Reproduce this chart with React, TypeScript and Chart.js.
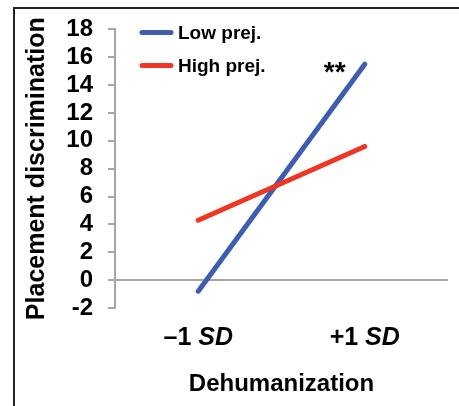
import React, { useEffect, useRef } from "react";
import { Chart, registerables } from "chart.js";

Chart.register(...registerables);

const categories = ["–1 SD", "+1 SD"];
const lowPrej = [-0.8, 15.5];
const highPrej = [4.3, 9.6];
const seriesNames = ["Low prej.", "High prej."];
const yTicksMin = -2;
const yTicksMax = 18;
const yStep = 2;
const yTitle = "Placement discrimination";
const xTitle = "Dehumanization";
const sigMark = "**";

const BLUE = "#3E5DB0";
const RED = "#EE3526";
const GRAY = "#A6A6A6";
const FONT = "'Liberation Sans', Arial, Helvetica, sans-serif";

export default function App() {
  const ref = useRef<HTMLCanvasElement>(null);

  useEffect(() => {
    if (!ref.current) return;
    Chart.defaults.font.family = FONT;

    const overlay = {
      id: "overlay",
      afterDraw(chart: any) {
        const ctx = chart.ctx as CanvasRenderingContext2D;
        const area = chart.chartArea;
        const xs = chart.scales.x;
        ctx.save();
        // x tick labels with italic "SD"
        categories.forEach((lab, i) => {
          const x = xs.getPixelForValue(i);
          const sp = lab.indexOf(" ");
          const a = lab.slice(0, sp + 1);
          const b = lab.slice(sp + 1);
          ctx.font = `bold 25px ${FONT}`;
          const wa = ctx.measureText(a).width;
          ctx.font = `italic bold 25px ${FONT}`;
          const wb = ctx.measureText(b).width;
          const start = x - (wa + wb) / 2;
          ctx.fillStyle = "#000";
          ctx.textBaseline = "middle";
          ctx.textAlign = "left";
          ctx.font = `bold 25px ${FONT}`;
          ctx.fillText(a, start, area.bottom + 30);
          ctx.font = `italic bold 25px ${FONT}`;
          ctx.fillText(b, start + wa, area.bottom + 30);
        });
        // legend
        const cols = [BLUE, RED];
        seriesNames.forEach((name, i) => {
          const y = area.top + 3 + i * 33;
          ctx.strokeStyle = cols[i];
          ctx.lineWidth = 5;
          ctx.lineCap = "round";
          ctx.beginPath();
          ctx.moveTo(area.left + 27, y);
          ctx.lineTo(area.left + 56, y);
          ctx.stroke();
          ctx.fillStyle = "#000";
          ctx.font = `bold 19px ${FONT}`;
          ctx.textAlign = "left";
          ctx.textBaseline = "middle";
          ctx.fillText(name, area.left + 63, y + 1);
        });
        // significance mark
        ctx.font = `bold 28px ${FONT}`;
        ctx.textAlign = "center";
        ctx.textBaseline = "middle";
        ctx.fillText(sigMark, xs.getPixelForValue(1) - 30, area.top + 44);
        ctx.restore();
      },
    };

    const chart = new Chart(ref.current, {
      type: "line",
      data: {
        labels: categories,
        datasets: [
          {
            label: seriesNames[0],
            data: lowPrej,
            borderColor: BLUE,
            backgroundColor: BLUE,
            borderWidth: 5,
            borderCapStyle: "round",
            pointRadius: 0,
            order: 1,
          },
          {
            label: seriesNames[1],
            data: highPrej,
            borderColor: RED,
            backgroundColor: RED,
            borderWidth: 5,
            borderCapStyle: "round",
            pointRadius: 0,
            order: 0,
          },
        ],
      },
      options: {
        responsive: false,
        animation: false,
        layout: { padding: { top: 29, right: 11, bottom: 0, left: 0 } },
        plugins: { legend: { display: false }, tooltip: { enabled: false } },
        scales: {
          x: {
            type: "category",
            offset: true,
            grid: { display: false, drawTicks: false },
            border: { display: false },
            ticks: { color: "transparent", font: { size: 23, weight: "bold" } },
            title: {
              display: true,
              text: xTitle,
              color: "#000",
              font: { size: 24, weight: "bold" },
              padding: { top: 0, bottom: 7 },
            },
            afterFit: (s: any) => {
              s.height = 98;
            },
          },
          y: {
            min: yTicksMin,
            max: yTicksMax,
            ticks: {
              stepSize: yStep,
              autoSkip: false,
              color: "#000",
              font: { size: 24, weight: "bold" },
              padding: 15,
            },
            grid: {
              color: (c: any) => (c.tick && c.tick.value === 0 ? GRAY : "transparent"),
              lineWidth: 2,
              tickColor: GRAY,
              tickLength: 7,
              drawTicks: true,
            },
            border: { display: true, color: GRAY, width: 2 },
            title: {
              display: true,
              text: yTitle,
              color: "#000",
              font: { size: 25, weight: "bold" },
              padding: { top: 22, bottom: 0 },
            },
            afterFit: (s: any) => {
              s.width = 115;
            },
          },
        },
      },
      plugins: [overlay],
    } as any);

    return () => chart.destroy();
  }, []);

  return (
    <div style={{ position: "fixed", left: 0, top: 0, width: 459, height: 406, background: "#fff" }}>
      <div
        style={{
          position: "absolute",
          left: 13,
          top: 7,
          width: 446,
          height: 399,
          borderTop: "2px solid #222",
          borderLeft: "2px solid #222",
          boxSizing: "border-box",
        }}
      />
      <canvas ref={ref} width={459} height={406} style={{ position: "absolute", left: 0, top: 0 }} />
    </div>
  );
}
